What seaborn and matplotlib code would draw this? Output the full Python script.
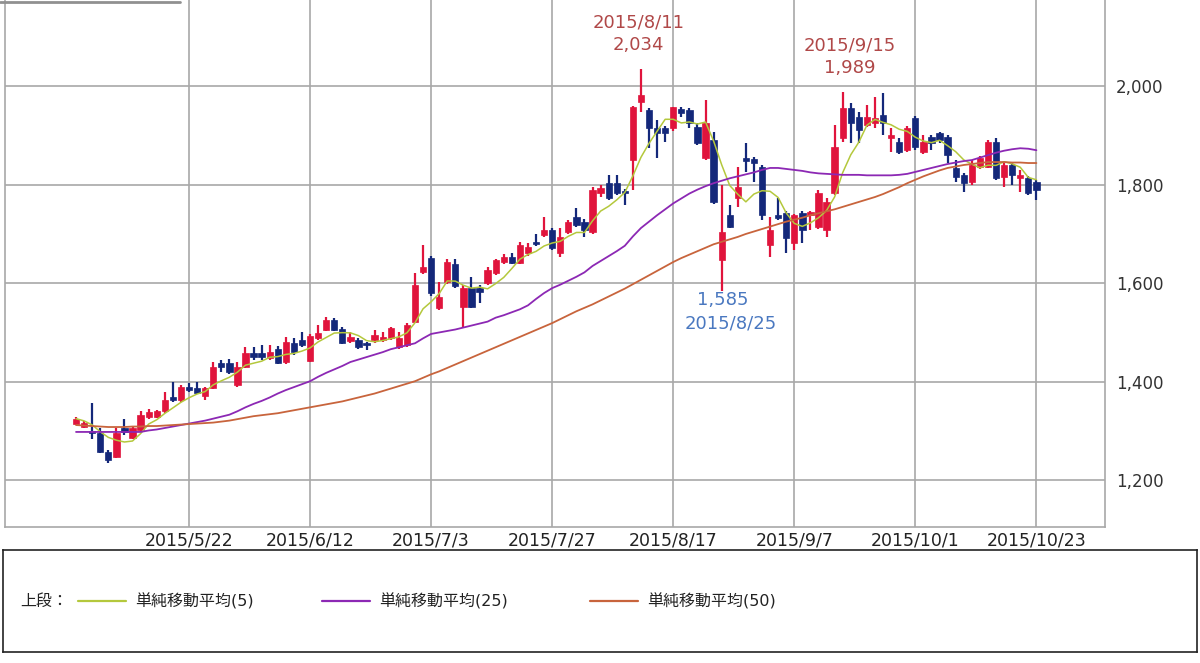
import numpy as np
import pandas as pd
import matplotlib
matplotlib.use("Agg")
import matplotlib.pyplot as plt
import seaborn as sns

# OHLC, one row per trading day (2015/4/28 .. 2015/10/23)
opens = [1315, 1308, 1300, 1296, 1257, 1247, 1306, 1285, 1302, 1328,
         1328, 1340, 1368, 1362, 1389, 1388, 1370, 1387, 1437, 1437,
         1393, 1430, 1458, 1458, 1448, 1467, 1440, 1478, 1484, 1443,
         1488, 1505, 1525, 1508, 1482, 1484, 1478, 1484, 1484, 1488,
         1470, 1474, 1521, 1622, 1651, 1549, 1602, 1639, 1551, 1590,
         1590, 1600, 1620, 1643, 1653, 1641, 1661, 1683, 1698, 1708,
         1661, 1704, 1734, 1724, 1704, 1783, 1803, 1803, 1787, 1850,
         1967, 1951, 1915, 1915, 1915, 1953, 1951, 1917, 1854, 1890,
         1647, 1738, 1773, 1854, 1852, 1836, 1677, 1738, 1742, 1681,
         1742, 1738, 1714, 1708, 1783, 1894, 1955, 1937, 1921, 1925,
         1941, 1894, 1886, 1870, 1935, 1866, 1896, 1905, 1896, 1833,
         1819, 1805, 1836, 1836, 1886, 1815, 1840, 1813, 1813, 1805]
highs = [1328, 1320, 1356, 1305, 1262, 1306, 1324, 1310, 1340, 1345,
         1342, 1379, 1399, 1393, 1398, 1400, 1390, 1440, 1444, 1446,
         1440, 1470, 1470, 1474, 1475, 1472, 1490, 1488, 1500, 1496,
         1515, 1531, 1530, 1512, 1500, 1488, 1480, 1505, 1500, 1512,
         1500, 1519, 1620, 1677, 1655, 1602, 1649, 1649, 1596, 1612,
         1596, 1632, 1650, 1660, 1661, 1683, 1682, 1700, 1734, 1712,
         1712, 1728, 1752, 1730, 1795, 1799, 1819, 1819, 1792, 1960,
         2034, 1955, 1931, 1920, 1957, 1957, 1955, 1925, 1972, 1907,
         1800, 1758, 1836, 1884, 1856, 1840, 1734, 1773, 1746, 1740,
         1746, 1746, 1789, 1773, 1921, 1989, 1965, 1947, 1961, 1978,
         1986, 1915, 1895, 1920, 1940, 1900, 1900, 1908, 1900, 1850,
         1823, 1850, 1858, 1890, 1894, 1845, 1845, 1830, 1818, 1810]
lows = [1312, 1305, 1283, 1255, 1235, 1245, 1292, 1283, 1298, 1325,
        1326, 1336, 1358, 1358, 1380, 1375, 1362, 1385, 1420, 1415,
        1390, 1428, 1445, 1445, 1445, 1435, 1436, 1455, 1470, 1440,
        1485, 1502, 1502, 1476, 1478, 1466, 1464, 1478, 1480, 1485,
        1466, 1470, 1519, 1618, 1575, 1545, 1598, 1590, 1509, 1549,
        1560, 1596, 1616, 1640, 1638, 1638, 1655, 1676, 1694, 1667,
        1653, 1700, 1714, 1694, 1700, 1775, 1768, 1779, 1758, 1789,
        1947, 1874, 1854, 1886, 1910, 1937, 1915, 1880, 1850, 1760,
        1585, 1712, 1754, 1825, 1805, 1728, 1653, 1728, 1661, 1667,
        1681, 1708, 1710, 1694, 1780, 1886, 1884, 1884, 1917, 1915,
        1900, 1866, 1862, 1866, 1870, 1862, 1870, 1884, 1845, 1805,
        1785, 1800, 1832, 1834, 1810, 1795, 1800, 1785, 1780, 1769]
closes = [1325, 1316, 1296, 1257, 1241, 1296, 1298, 1306, 1332, 1338,
          1340, 1362, 1362, 1389, 1384, 1378, 1387, 1430, 1430, 1420,
          1430, 1458, 1450, 1450, 1460, 1437, 1480, 1460, 1474, 1492,
          1498, 1525, 1505, 1478, 1490, 1470, 1474, 1494, 1490, 1509,
          1488, 1515, 1596, 1632, 1580, 1572, 1643, 1594, 1590, 1551,
          1582, 1626, 1647, 1653, 1641, 1677, 1673, 1679, 1708, 1671,
          1694, 1724, 1718, 1708, 1789, 1793, 1773, 1783, 1783, 1957,
          1982, 1915, 1905, 1905, 1957, 1945, 1925, 1884, 1925, 1765,
          1704, 1714, 1795, 1848, 1844, 1738, 1708, 1732, 1691, 1738,
          1708, 1744, 1783, 1765, 1876, 1955, 1925, 1911, 1937, 1935,
          1925, 1900, 1866, 1915, 1876, 1886, 1884, 1890, 1860, 1815,
          1803, 1840, 1854, 1886, 1813, 1840, 1819, 1819, 1783, 1789]

# 25- and 50-day averages as drawn (they include days before the visible window)
ma25 = [1298, 1298, 1298, 1298, 1298, 1298, 1298, 1298, 1298, 1301,
        1303, 1306, 1309, 1312, 1315, 1318, 1321, 1325, 1329, 1333,
        1340, 1348, 1355, 1361, 1368, 1376, 1383, 1389, 1395, 1401,
        1410, 1418, 1425, 1432, 1440, 1445, 1450, 1455, 1460, 1466,
        1470, 1474, 1478, 1488, 1497, 1500, 1503, 1506, 1510, 1514,
        1518, 1522, 1530, 1535, 1541, 1547, 1555, 1568, 1580, 1590,
        1597, 1605, 1613, 1622, 1635, 1645, 1655, 1665, 1676, 1695,
        1712, 1725, 1738, 1750, 1762, 1772, 1782, 1790, 1797, 1803,
        1808, 1813, 1817, 1821, 1825, 1830, 1834, 1834, 1832, 1830,
        1828, 1825, 1823, 1822, 1821, 1820, 1820, 1820, 1819, 1819,
        1819, 1819, 1820, 1822, 1826, 1830, 1834, 1838, 1842, 1845,
        1848, 1850, 1855, 1860, 1865, 1869, 1872, 1874, 1873, 1870]
ma50 = [1312, 1311, 1310, 1309, 1308, 1308, 1308, 1309, 1309, 1310,
        1310, 1311, 1312, 1313, 1314, 1315, 1316, 1317, 1319, 1321,
        1324, 1327, 1330, 1332, 1334, 1336, 1339, 1342, 1345, 1348,
        1351, 1354, 1357, 1360, 1364, 1368, 1372, 1376, 1381, 1386,
        1391, 1396, 1401, 1408, 1415, 1421, 1428, 1435, 1442, 1449,
        1456, 1463, 1470, 1477, 1484, 1491, 1498, 1505, 1512, 1519,
        1527, 1535, 1543, 1550, 1557, 1565, 1573, 1581, 1589, 1598,
        1607, 1616, 1625, 1634, 1643, 1651, 1658, 1665, 1672, 1679,
        1684, 1689, 1694, 1700, 1705, 1710, 1715, 1720, 1725, 1729,
        1733, 1738, 1742, 1746, 1750, 1755, 1760, 1765, 1770, 1775,
        1781, 1788, 1795, 1803, 1810, 1817, 1823, 1829, 1834, 1837,
        1840, 1842, 1844, 1846, 1846, 1846, 1845, 1845, 1844, 1844]

tick_pos = [14, 29, 44, 59, 74, 89, 104, 119]
tick_labels = ["2015/5/22", "2015/6/12", "2015/7/3", "2015/7/27",
               "2015/8/17", "2015/9/7", "2015/10/1", "2015/10/23"]

df = pd.DataFrame({"open": opens, "high": highs, "low": lows, "close": closes,
                   "ma25": ma25, "ma50": ma50})
df["day"] = np.arange(len(df))
df["ma5"] = df["close"].rolling(5, min_periods=1).mean()

sns.set_style("white")
plt.rcParams["font.family"] = ["DejaVu Sans", "Noto Sans CJK JP"]

RED = "#e0143c"
NAVY = "#14287a"
C5 = "#b4c83c"
C25 = "#8c28b4"
C50 = "#c8643c"
GRID = "#a8a8a8"

fig = plt.figure(figsize=(12, 6.63), dpi=100)
ax = fig.add_axes([5 / 1200, 1 - 527 / 663, 1100 / 1200, 527 / 663])

up = df["close"] >= df["open"]
colors = np.where(up, RED, NAVY)
ax.vlines(df["day"], df["low"], df["high"], colors=colors, lw=1.6, zorder=3)
body_lo = df[["open", "close"]].min(axis=1)
body_h = (df["close"] - df["open"]).abs().clip(lower=2)
ax.bar(df["day"], body_h, bottom=body_lo, width=0.78, color=colors,
       edgecolor=colors, linewidth=0.5, zorder=4)

sns.lineplot(data=df, x="day", y="ma5", color=C5, lw=1.1, ax=ax, zorder=5)
sns.lineplot(data=df, x="day", y="ma25", color=C25, lw=1.3, ax=ax, zorder=5)
sns.lineplot(data=df, x="day", y="ma50", color=C50, lw=1.3, ax=ax, zorder=5)

ax.set_xlim(-8.8, 127.5)
ax.set_ylim(1105, 2175)
ax.set_xticks(tick_pos)
ax.set_xticklabels(tick_labels, fontsize=12.5, color="#222222")
ax.set_yticks([1200, 1400, 1600, 1800, 2000])
ax.set_yticklabels(["1,200", "1,400", "1,600", "1,800", "2,000"], fontsize=12,
                   color="#333333")
ax.yaxis.tick_right()
ax.tick_params(axis="y", length=0, pad=8)
ax.tick_params(axis="x", length=0, pad=3)
ax.set_xlabel("")
ax.set_ylabel("")
ax.grid(True, color=GRID, lw=1.2, zorder=0)
for s in ["left", "bottom", "right"]:
    ax.spines[s].set_color(GRID)
    ax.spines[s].set_linewidth(1.2)
ax.spines["top"].set_visible(False)

# peak / trough labels
hi_col = "#b04848"
lo_col = "#4a78c0"
i_max = int(np.argmax(highs))
ax.text(i_max - 0.3, highs[i_max] + 96, "2015/8/11", color=hi_col, fontsize=13, ha="center", va="center")
ax.text(i_max - 0.3, highs[i_max] + 49, "2,034", color=hi_col, fontsize=13, ha="center", va="center")
i_sep = 95
ax.text(i_sep + 0.9, highs[i_sep] + 94, "2015/9/15", color=hi_col, fontsize=13, ha="center", va="center")
ax.text(i_sep + 0.9, highs[i_sep] + 48, "1,989", color=hi_col, fontsize=13, ha="center", va="center")
i_min = int(np.argmin(lows[60:])) + 60
ax.text(i_min + 0.1, lows[i_min] - 20, "1,585", color=lo_col, fontsize=13, ha="center", va="center")
ax.text(i_min + 1.1, lows[i_min] - 66, "2015/8/25", color=lo_col, fontsize=13, ha="center", va="center")

# short gray rule at the top-left
fig.add_artist(plt.Line2D([0, 180 / 1200], [1 - 1.5 / 663, 1 - 1.5 / 663], color="#909090", lw=2))

# legend box
lax = fig.add_axes([3 / 1200, 1 - 652 / 663, 1194 / 1200, 102 / 663])
lax.set_xlim(0, 1194)
lax.set_ylim(0, 102)
lax.set_xticks([])
lax.set_yticks([])
for s in lax.spines.values():
    s.set_color("#222222")
    s.set_linewidth(1.2)
ly = 51
lax.text(17, ly, "上段：", fontsize=11.5, va="center", ha="left", color="#222222")
items = [("単純移動平均(5)", C5, 75), ("単純移動平均(25)", C25, 319), ("単純移動平均(50)", C50, 587)]
for label, col, x0 in items:
    lax.plot([x0, x0 + 48], [ly, ly], color=col, lw=1.6)
    lax.text(x0 + 57, ly, label, fontsize=11.5, va="center", ha="left", color="#222222")

fig.savefig("out.png", dpi=100)
